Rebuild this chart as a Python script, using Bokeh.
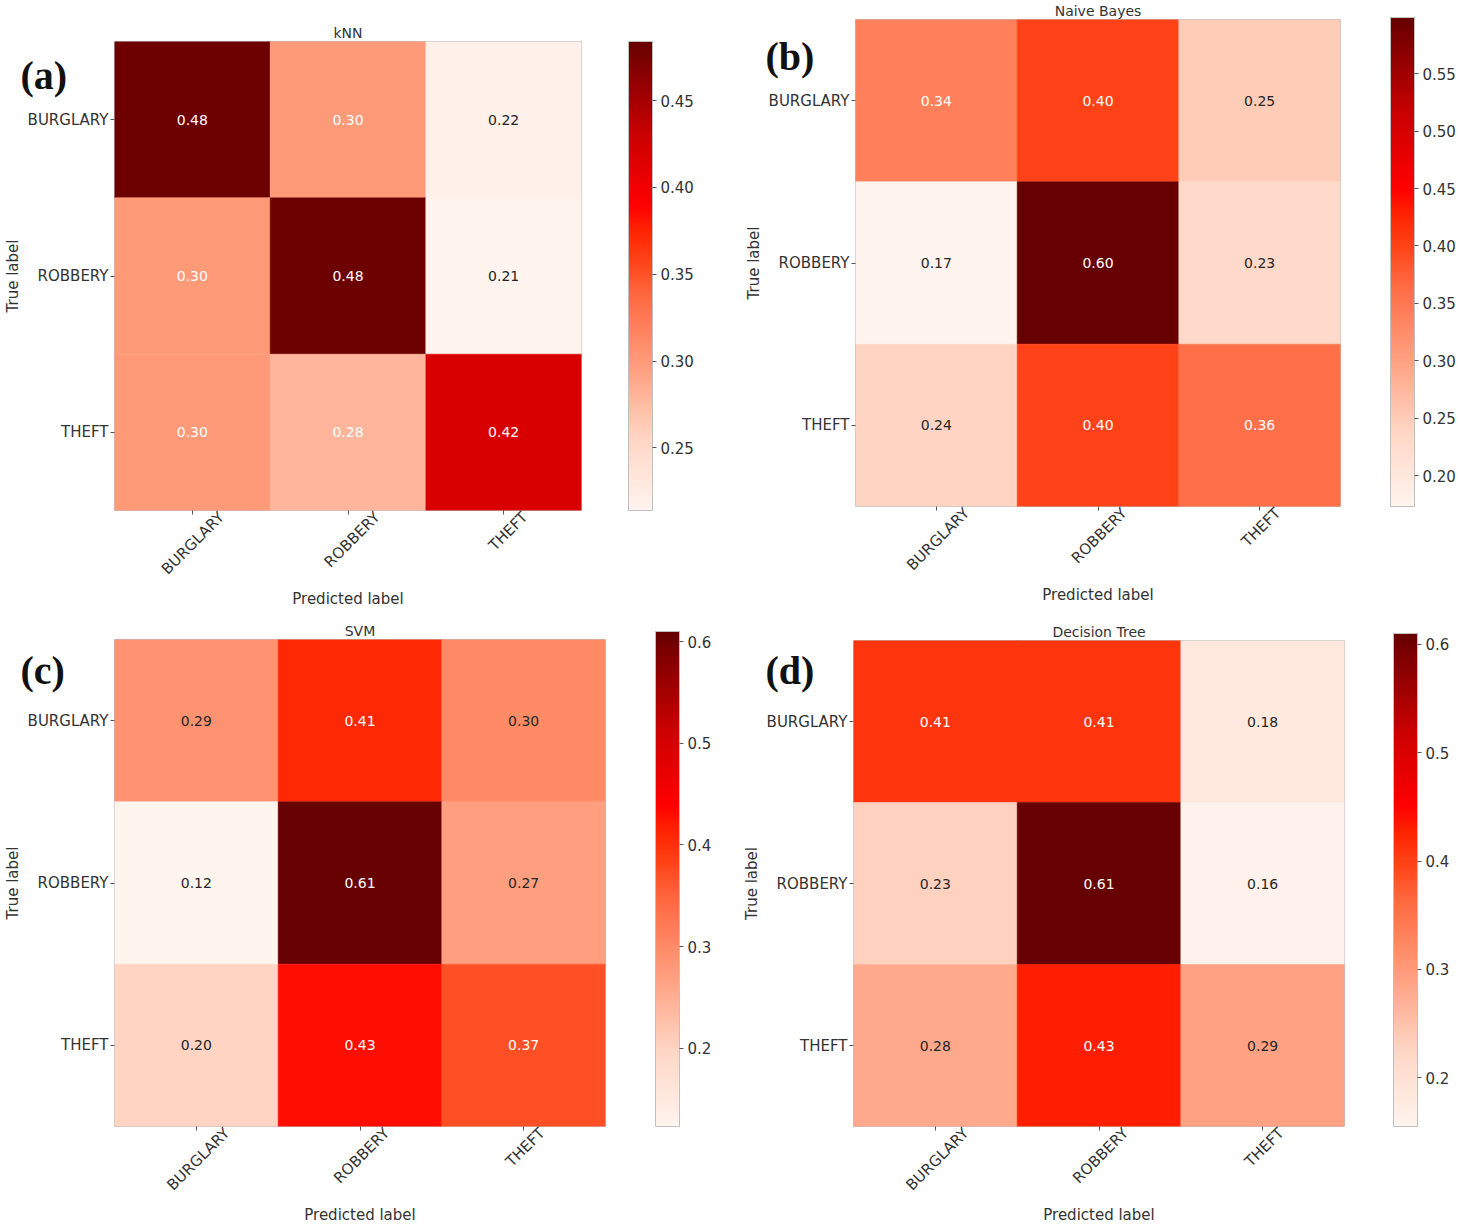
import numpy as np
from bokeh.plotting import figure
from bokeh.layouts import column, row
from bokeh.core.properties import value
from bokeh.models import (ColumnDataSource, LinearColorMapper, ColorBar, FactorRange,
                          FixedTicker, PrintfTickFormatter, Label, CategoricalAxis)
from bokeh.embed import file_html
from bokeh.resources import INLINE

# ---------------- data ----------------
classes = ["BURGLARY", "ROBBERY", "THEFT"]
titles = ["kNN", "Naive Bayes", "SVM", "Decision Tree"]
panel_tags = ["(a)", "(b)", "(c)", "(d)"]

knn = [[0.48, 0.30, 0.22],
       [0.30, 0.48, 0.21],
       [0.30, 0.28, 0.42]]
naive_bayes = [[0.34, 0.40, 0.25],
               [0.17, 0.60, 0.23],
               [0.24, 0.40, 0.36]]
svm = [[0.29, 0.41, 0.30],
       [0.12, 0.61, 0.27],
       [0.20, 0.43, 0.37]]
decision_tree = [[0.41, 0.41, 0.18],
                 [0.23, 0.61, 0.16],
                 [0.28, 0.43, 0.29]]

cbar_low = [0.214, 0.173, 0.123, 0.155]
cbar_high = [0.484, 0.599, 0.610, 0.610]
cbar_ticks = [[0.25, 0.30, 0.35, 0.40, 0.45],
              [0.20, 0.25, 0.30, 0.35, 0.40, 0.45, 0.50, 0.55],
              [0.2, 0.3, 0.4, 0.5, 0.6],
              [0.2, 0.3, 0.4, 0.5, 0.6]]
cbar_fmt = ["%.2f", "%.2f", "%.1f", "%.1f"]

matrices = [knn, naive_bayes, svm, decision_tree]

# ---------------- colour map ----------------
anchors = [(0.00, "#fff4ee"), (0.15, "#ffd7c6"), (0.30, "#ffa080"), (0.45, "#ff6c44"),
           (0.53, "#ff4418"), (0.60, "#ff2200"), (0.65, "#ff0000"), (0.80, "#cc0000"),
           (1.00, "#670000")]


def hex2rgb(h):
    return [int(h[i:i + 2], 16) for i in (1, 3, 5)]


def build_palette(n=256):
    ts = np.array([a[0] for a in anchors])
    cols = np.array([hex2rgb(a[1]) for a in anchors], dtype=float)
    out = []
    for t in np.linspace(0, 1, n):
        rgb = [np.interp(t, ts, cols[:, k]) for k in range(3)]
        out.append("#%02x%02x%02x" % tuple(int(round(c)) for c in rgb))
    return out


palette = build_palette()

# ---------------- geometry (style) ----------------
geom = [
    dict(w=737, h=620, left=113, top=41, right=156, bottom=110, gap=47),
    dict(w=721, h=620, left=118, top=17, right=115, bottom=114, gap=50),
    dict(w=737, h=607, left=111, top=18, right=132, bottom=94, gap=50),
    dict(w=721, h=607, left=116, top=20, right=114, bottom=94, gap=49),
]
tag_pos = [(20, 52), (765, 33), (20, 647), (765, 647)]
# horizontal shift (px) that centres each rotated x label on its tick (matplotlib ha="center")
label_shift_px = [31, 28, 20]
SUB = 40  # sub-slots per cell used to place the rotated labels

FONT = "DejaVu Sans"
TXT = "#333333"
LBL = "15px"


def label_factors(cell_px):
    n = len(classes) * SUB
    slots = ["\u200b" * (j + 1) for j in range(n)]
    for k, name in enumerate(classes):
        pos = k + 0.5 + label_shift_px[k] / cell_px
        j = int(round(pos * SUB - 0.5))
        slots[j] = name
    return slots


def make_panel(i):
    m = matrices[i]
    g = geom[i]
    fh = g["h"] - g["top"] - g["bottom"]
    fw = g["w"] - g["left"] - g["right"]
    cell_px = fw / len(classes)
    xs, ys, vals, labels, tcols = [], [], [], [], []
    vmax = max(max(r) for r in m)
    for r, true_lab in enumerate(classes):
        for c, pred_lab in enumerate(classes):
            v = m[r][c]
            xs.append(pred_lab)
            ys.append(true_lab)
            vals.append(v)
            labels.append("%.2f" % v)
            tcols.append("white" if v > vmax / 2 else "#262626")
    src = ColumnDataSource(dict(x=xs, y=ys, v=vals, t=labels, tc=tcols))
    mapper = LinearColorMapper(palette=palette, low=cbar_low[i], high=cbar_high[i])

    p = figure(x_range=FactorRange(*classes), y_range=FactorRange(*classes[::-1]),
               width=g["w"], height=g["h"],
               min_border_left=g["left"], min_border_top=g["top"],
               min_border_right=g["right"], min_border_bottom=g["bottom"],
               output_backend="svg", toolbar_location=None, title=titles[i])
    p.rect("x", "y", 1, 1, source=src, fill_color={"field": "v", "transform": mapper},
           line_color={"field": "v", "transform": mapper}, line_width=0.5)
    p.text("x", "y", text="t", source=src, text_color="tc", text_align="center",
           text_baseline="middle", text_font_size="14px", text_font=value(FONT))

    p.title.text_font = FONT
    p.title.text_font_size = "14px"
    p.title.text_font_style = "normal"
    p.title.align = "center"
    p.title.text_color = TXT
    p.title.offset = 0
    p.title.standoff = 1

    p.xgrid.visible = False
    p.ygrid.visible = False
    p.outline_line_color = "#c0c0c0"
    p.background_fill_color = "white"

    # y axis
    ya = p.yaxis[0]
    ya.axis_line_color = None
    ya.major_tick_out = 4
    ya.major_tick_in = 0
    ya.major_tick_line_color = "#555555"
    ya.major_label_text_font = FONT
    ya.major_label_text_font_size = LBL
    ya.major_label_text_color = TXT
    ya.major_label_standoff = 2
    ya.axis_label = "True label"
    ya.axis_label_text_font = FONT
    ya.axis_label_text_font_size = LBL
    ya.axis_label_text_font_style = "normal"
    ya.axis_label_text_color = TXT
    ya.axis_label_standoff = 3

    # x axis: tick marks on the category centres, labels hidden
    xa = p.xaxis[0]
    xa.axis_line_color = None
    xa.major_tick_out = 4
    xa.major_tick_in = 0
    xa.major_tick_line_color = "#555555"
    xa.major_label_text_font_size = "0px"
    xa.major_label_standoff = 0

    # rotated class labels centred on the ticks (matplotlib rotation=45, ha="center")
    p.extra_x_ranges = {"lab": FactorRange(factors=label_factors(cell_px))}
    la = CategoricalAxis(x_range_name="lab",
                         axis_line_color=None, major_tick_out=0, major_tick_in=0,
                         major_label_orientation=np.pi / 4, major_label_standoff=0,
                         major_label_text_font=FONT, major_label_text_font_size=LBL,
                         major_label_text_color=TXT,
                         axis_label="Predicted label", axis_label_standoff=3,
                         axis_label_text_font=FONT, axis_label_text_font_size=LBL,
                         axis_label_text_font_style="normal", axis_label_text_color=TXT)
    p.add_layout(la, "below")

    cb = ColorBar(color_mapper=mapper, ticker=FixedTicker(ticks=cbar_ticks[i]),
                  formatter=PrintfTickFormatter(format=cbar_fmt[i]),
                  width=24, height=fh, padding=0, margin=0,
                  location=(g["gap"], 0),
                  bar_line_color="#c0c0c0", major_tick_out=4, major_tick_in=0,
                  major_tick_line_color="#555555", label_standoff=4,
                  major_label_text_font=FONT, major_label_text_font_size=LBL,
                  major_label_text_color=TXT, background_fill_color=None,
                  border_line_color=None)
    p.add_layout(cb, "right")
    return column(p)


def make_tag(i):
    tx, ty = tag_pos[i]
    t = figure(width=60, height=50, x_range=(0, 1), y_range=(0, 1),
               x_axis_type=None, y_axis_type=None, min_border=0,
               output_backend="svg", toolbar_location=None,
               outline_line_color=None, background_fill_color=None,
               border_fill_color=None,
               styles={"position": "absolute", "left": "%dpx" % tx, "top": "%dpx" % ty,
                       "z-index": "10"})
    t.grid.visible = False
    t.add_layout(Label(x=0, y=50, x_units="screen", y_units="screen",
                       text=panel_tags[i], text_font="Liberation Serif",
                       text_font_style="bold", text_font_size="40px", text_color="#111111",
                       text_baseline="top", text_align="left"))
    return t


panels = [make_panel(i) for i in range(4)]
tags = [make_tag(i) for i in range(4)]
layout = column(row(panels[0], panels[1]), row(panels[2], panels[3]), *tags)
open("out.html", "w").write(file_html(layout, INLINE))
